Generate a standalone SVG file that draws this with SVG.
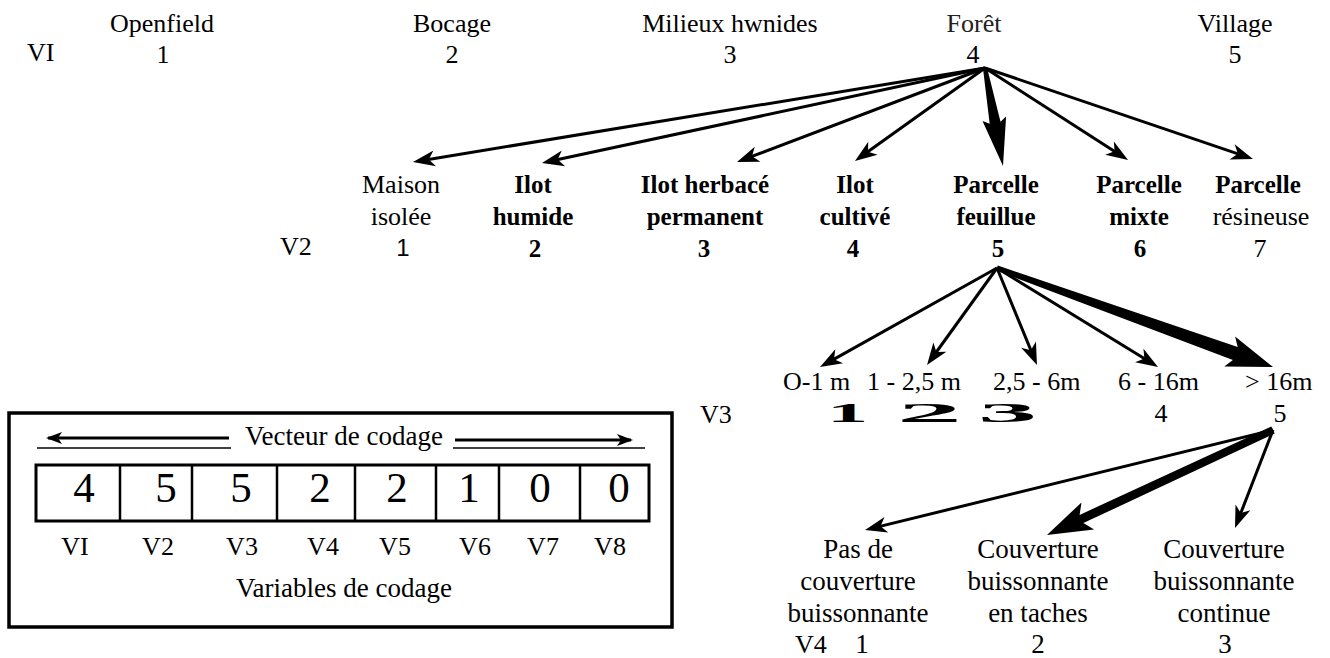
<svg xmlns="http://www.w3.org/2000/svg" width="1330" height="658" viewBox="0 0 1330 658">
<style>
text{font-family:"Liberation Serif","Times New Roman",serif;fill:#000}
.t{font-size:26px}
.c{text-anchor:middle}
.b{font-weight:bold;font-size:25px}
.s{font-family:"Liberation Sans",Arial,sans-serif}
.d{font-size:43px}
.l{fill:none;stroke:#000;stroke-width:3}
.th{fill:none;stroke:#000;stroke-width:1.5}
</style>
<defs>
<marker id="ah" markerUnits="userSpaceOnUse" markerWidth="40" markerHeight="40" viewBox="-20 -20 40 40" refX="0" refY="0" orient="auto" overflow="visible">
<path d="M8,0 L-14,-8 L-8,0 L-14,8 Z" fill="#000"/>
</marker>
<marker id="ahs" markerUnits="userSpaceOnUse" markerWidth="40" markerHeight="40" viewBox="-20 -20 40 40" refX="0" refY="0" orient="auto" overflow="visible">
<path d="M2,0 L-14,-6 L-10,0 L-14,6 Z" fill="#000"/>
</marker>
</defs>
<rect width="1330" height="658" fill="#fff"/>

<g id="v1-row">
<text class="t" x="27" y="61">VI</text>
<g id="n-openfield"><text class="t c" x="162" y="32">Openfield</text><text class="t c" x="163" y="63">1</text></g>
<g id="n-bocage"><text class="t c" x="452" y="32">Bocage</text><text class="t c" x="452" y="63">2</text></g>
<g id="n-milieux"><text class="t c" x="730" y="32">Milieux hwnides</text><text class="t c" x="730" y="63">3</text></g>
<g id="n-foret"><text class="t c" x="974" y="32" style="fill:#222">Forêt</text><text class="t c" x="973" y="63">4</text></g>
<g id="n-village"><text class="t c" x="1235" y="32">Village</text><text class="t c" x="1235" y="63">5</text></g>
</g>

<g id="v2-row">
<text class="t" x="280" y="255">V2</text>
<g id="n-maison"><text class="t c" x="401" y="193">Maison</text><text class="t c" x="401" y="225">isolée</text><text class="t c s" x="403" y="256" style="font-size:24px">1</text></g>
<g id="n-humide"><text class="b c" x="533" y="193">Ilot</text><text class="b c" x="533" y="225">humide</text><text class="b c" x="535" y="257">2</text></g>
<g id="n-herbace"><text class="b c" x="705" y="193">Ilot herbacé</text><text class="b c" x="705" y="225">permanent</text><text class="b c" x="704" y="257">3</text></g>
<g id="n-cultive"><text class="b c" x="855" y="193">Ilot</text><text class="b c" x="855" y="225">cultivé</text><text class="b c" x="853" y="257">4</text></g>
<g id="n-feuillue"><text class="b c" x="996" y="193">Parcelle</text><text class="b c" x="996" y="225">feuillue</text><text class="b c" x="998" y="257">5</text></g>
<g id="n-mixte"><text class="b c" x="1139" y="193">Parcelle</text><text class="b c" x="1139" y="225">mixte</text><text class="b c" x="1140" y="257">6</text></g>
<g id="n-resineuse"><text class="b c" x="1258" y="193">Parcelle</text><text class="t c" x="1261" y="225">résineuse</text><text class="t c" x="1260" y="257">7</text></g>
</g>

<g id="v3-row">
<text class="t" x="700" y="423">V3</text>
<g id="n-0-1"><text class="t" x="783" y="390">O-1 m</text><text x="827" y="422" textLength="41" lengthAdjust="spacingAndGlyphs" style="font-size:28px;font-weight:bold">1</text></g>
<g id="n-1-25"><text class="t" x="867" y="390">1 - 2,5 m</text><text x="897" y="422" textLength="65" lengthAdjust="spacingAndGlyphs" style="font-size:28px;font-weight:bold">2</text></g>
<g id="n-25-6"><text class="t" x="993" y="390">2,5 - 6m</text><text x="978" y="422" textLength="59" lengthAdjust="spacingAndGlyphs" style="font-size:28px;font-weight:bold">3</text></g>
<g id="n-6-16"><text class="t" x="1118" y="390">6 - 16m</text><text class="t c" x="1161" y="422">4</text></g>
<g id="n-16"><text class="t" x="1245" y="390">&gt; 16m</text><text class="t c" x="1280" y="422">5</text></g>
</g>

<g id="v4-row" style="font-size:27px">
<text x="795" y="653" style="font-size:26px">V4</text>
<g id="n-pas"><text class="c" x="858" y="558">Pas de</text><text class="c" x="858" y="590">couverture</text><text class="c" x="858" y="622">buissonnante</text><text class="c" x="862" y="653">1</text></g>
<g id="n-taches"><text class="c" x="1038" y="558">Couverture</text><text class="c" x="1038" y="590">buissonnante</text><text class="c" x="1038" y="622">en taches</text><text class="c" x="1038" y="653">2</text></g>
<g id="n-continue"><text class="c" x="1224" y="558">Couverture</text><text class="c" x="1224" y="590">buissonnante</text><text class="c" x="1224" y="622">continue</text><text class="c" x="1225" y="653">3</text></g>
</g>

<g id="connectors">
<line class="l" x1="985" y1="68" x2="420.9" y2="160.7" marker-end="url(#ah)"/>
<line class="l" x1="985" y1="68" x2="549.8" y2="161.3" marker-end="url(#ah)"/>
<line class="l" x1="985" y1="68" x2="744.5" y2="159.2" marker-end="url(#ah)"/>
<line class="l" x1="985" y1="68" x2="861.5" y2="156.3" marker-end="url(#ah)"/>
<line class="l" x1="985" y1="68" x2="1121.3" y2="155.7" marker-end="url(#ah)"/>
<line class="l" x1="985" y1="68" x2="1245.4" y2="156.4" marker-end="url(#ah)"/>
<polygon points="983,68.4 989.7,123.7 982.5,121 1003,166 1006.1,116.6 1000.5,121.7 987,67.6" fill="#000"/>

<line class="l" x1="997" y1="268" x2="827" y2="363.1" marker-end="url(#ah)"/>
<line class="l" x1="997" y1="268" x2="931.7" y2="358.5" marker-end="url(#ah)"/>
<line class="l" x1="997" y1="268" x2="1033.9" y2="357.6" marker-end="url(#ah)"/>
<line class="l" x1="997" y1="268" x2="1151.2" y2="362.8" marker-end="url(#ah)"/>
<polygon points="996.2,270.4 1232.9,360.1 1224.3,366.6 1273,367 1235.1,336.4 1237.7,346.9 997.8,265.6" fill="#000"/>

<line class="l" x1="1273" y1="430" x2="872.8" y2="528.1" marker-end="url(#ah)"/>
<line class="l" x1="1273" y1="430" x2="1237.9" y2="520.5" marker-end="url(#ah)"/>
<polygon points="1274.7,433.6 1083.4,523.1 1094.1,529.6 1047,535 1081.5,502.4 1079.6,514.9 1271.3,426.4" fill="#000"/>
</g>

<g id="coding-vector">
<rect x="9" y="413" width="663" height="214" fill="none" stroke="#000" stroke-width="3.5"/>
<line class="l" x1="229" y1="438" x2="48" y2="438" marker-end="url(#ahs)"/>
<line class="th" x1="37" y1="448" x2="231" y2="448"/>
<line class="l" x1="455" y1="440" x2="631" y2="440" marker-end="url(#ahs)"/>
<line class="th" x1="453" y1="448" x2="645" y2="448"/>
<text class="t c" x="344" y="445" style="font-size:27px">Vecteur de codage</text>
<rect x="36" y="465" width="613" height="56" fill="none" stroke="#000" stroke-width="3"/>
<path d="M120,465V521M192,465V521M277,465V521M355,465V521M436,465V521M499,465V521M580,465V521" fill="none" stroke="#000" stroke-width="2.5"/>
<text class="d c" x="84" y="502">4</text>
<text class="d c" x="166" y="502">5</text>
<text class="d c" x="241" y="502">5</text>
<text class="d c" x="320" y="502">2</text>
<text class="d c" x="397" y="502">2</text>
<text class="d c" x="469" y="502">1</text>
<text class="d c" x="540" y="502">0</text>
<text class="d c" x="619" y="502">0</text>
<text class="t c" x="75" y="555">VI</text>
<text class="t c" x="158" y="555">V2</text>
<text class="t c" x="242" y="555">V3</text>
<text class="t c" x="323" y="555">V4</text>
<text class="t c" x="395" y="555">V5</text>
<text class="t c" x="475" y="555">V6</text>
<text class="t c" x="543" y="555">V7</text>
<text class="t c" x="610" y="555">V8</text>
<text class="t c" x="344" y="597" style="font-size:27px">Variables de codage</text>
</g>
</svg>
